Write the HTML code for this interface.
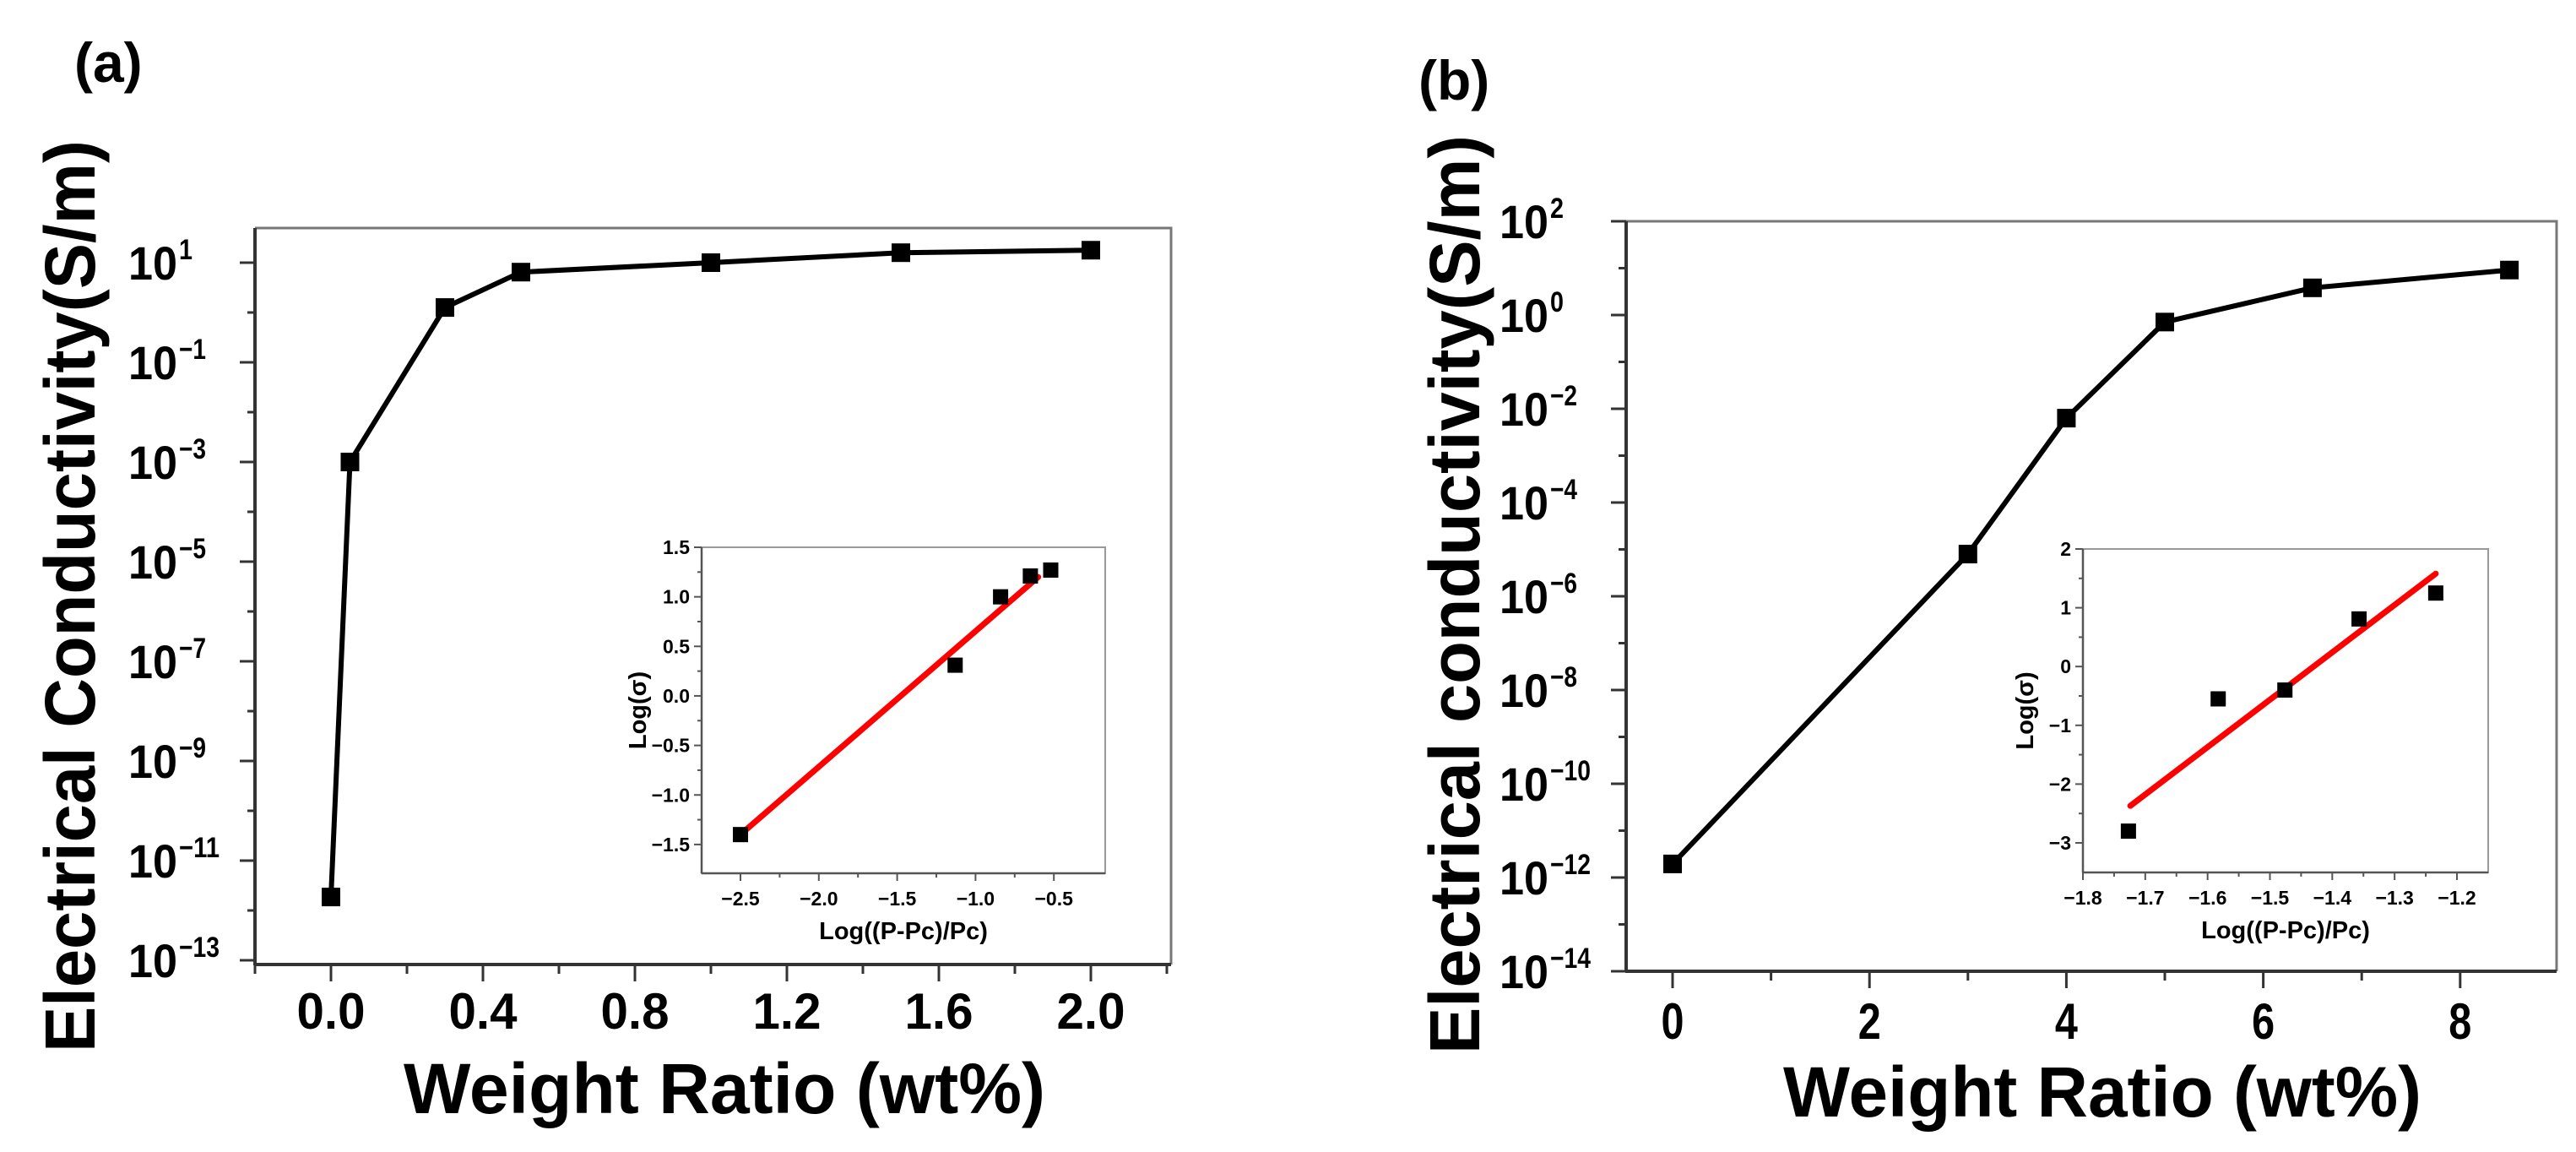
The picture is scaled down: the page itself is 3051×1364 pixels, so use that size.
<!DOCTYPE html>
<html><head><meta charset="utf-8">
<style>
html,body{margin:0;padding:0;background:#fff;}
svg{display:block;font-family:"Liberation Sans",Arial,sans-serif;font-weight:bold;}
</style></head>
<body>
<svg id="fig" width="3051" height="1364" viewBox="0 0 3051 1364" xmlns="http://www.w3.org/2000/svg">
<rect width="3051" height="1364" fill="#fff"/>
</svg>
<script>
// ---- Panel (a) data ----
const aX = [0, 0.05, 0.3, 0.5, 1.0, 1.5, 2.0];
const aLogY = [-11.73, -3.0, 0.1, 0.81, 1.0, 1.2, 1.25];
const aXTicks = [0.0, 0.4, 0.8, 1.2, 1.6, 2.0];
const aXTickLabels = ["0.0", "0.4", "0.8", "1.2", "1.6", "2.0"];
const aYTicks = [1, -1, -3, -5, -7, -9, -11, -13];
// inset (a)
const aiX = [-2.5, -1.13, -0.84, -0.65, -0.52];
const aiY = [-1.4, 0.31, 1.0, 1.21, 1.27];
const aiFitX = [-2.5, -0.6];
const aiFitY = [-1.4, 1.2];
const aiXTicks = [-2.5, -2.0, -1.5, -1.0, -0.5];
const aiXTickLabels = ["-2.5", "-2.0", "-1.5", "-1.0", "-0.5"];
const aiYTicks = [1.5, 1.0, 0.5, 0.0, -0.5, -1.0, -1.5];
const aiYTickLabels = ["1.5", "1.0", "0.5", "0.0", "-0.5", "-1.0", "-1.5"];
// ---- Panel (b) data ----
const bX = [0, 3, 4, 5, 6.5, 8.5];
const bLogY = [-11.71, -5.1, -2.2, -0.15, 0.58, 0.96];
const bXTicks = [0, 2, 4, 6, 8];
const bXTickLabels = ["0", "2", "4", "6", "8"];
const bYTicks = [2, 0, -2, -4, -6, -8, -10, -12, -14];
// inset (b)
const biX = [-1.727, -1.583, -1.476, -1.357, -1.234];
const biY = [-2.8, -0.55, -0.4, 0.81, 1.25];
const biFitX = [-1.724, -1.234];
const biFitY = [-2.37, 1.58];
const biXTicks = [-1.8, -1.7, -1.6, -1.5, -1.4, -1.3, -1.2];
const biXTickLabels = ["-1.8", "-1.7", "-1.6", "-1.5", "-1.4", "-1.3", "-1.2"];
const biYTicks = [2, 1, 0, -1, -2, -3];
const biYTickLabels = ["2", "1", "0", "-1", "-2", "-3"];

const NS = "http://www.w3.org/2000/svg";
const svg = document.getElementById("fig");
function el(tag, attrs, parent, text) {
  const e = document.createElementNS(NS, tag);
  for (const k in attrs) e.setAttribute(k, attrs[k]);
  if (text !== undefined) e.textContent = text;
  (parent || svg).appendChild(e);
  return e;
}
function scale(d0, d1, r0, r1) { return v => r0 + (v - d0) * (r1 - r0) / (d1 - d0); }
function fmt(s) { return s.replace("-", "\u2212"); }

function mainPanel(o) {
  const g = el("g", {});
  
  
  const sx = scale(o.xd[0], o.xd[1], o.L, o.R);
  const sy = scale(o.yd[0], o.yd[1], o.B, o.T);
  const fr = el("path", {d:`M${o.L},${o.T} H${o.R} V${o.B}`, fill:"none", stroke:"#777", "stroke-width":3}, g);
  
  
  const ya = el("line", {x1:o.L, y1:o.T, x2:o.L, y2:o.B+1, stroke:"#333", "stroke-width":4}, g);
  
  
  const xa = el("line", {x1:o.L-1, y1:o.B, x2:o.R, y2:o.B, stroke:"#333", "stroke-width":4}, g);
  
  
  o.yTicks.forEach(v => {
    const y = sy(v);
    el("line", {x1:o.L-18, y1:y, x2:o.L, y2:y, stroke:"#333", "stroke-width":3}, g);
    const t = el("text", {x:o.L-92, y:y+20, "text-anchor":"end", "font-size":56, textLength:58, lengthAdjust:"spacingAndGlyphs"}, g, "10");
    
    
    const s = fmt(String(v));
    const sp = el("text", {x:o.L-90, y:y-4, "text-anchor":"start", "font-size":34, textLength:s.length*16, lengthAdjust:"spacingAndGlyphs"}, g, s);
    
    
  });
  for (let v = Math.ceil(o.yd[0]); v <= o.yd[1]; v++) {
    if (o.yTicks.indexOf(v) < 0) { const y = sy(v); el("line", {x1:o.L-9, y1:y, x2:o.L, y2:y, stroke:"#333", "stroke-width":3}, g); }
  }
  o.xTicks.forEach((v, i) => {
    const x = sx(v);
    el("line", {x1:x, y1:o.B, x2:x, y2:o.B+20, stroke:"#333", "stroke-width":3}, g);
    const lab = o.xTickLabels[i];
    const t = el("text", {x:x, y:o.xLabY, "text-anchor":"middle", "font-size":60, textLength:lab.length*27, lengthAdjust:"spacingAndGlyphs"}, g, lab);
    
    
  });
  o.xMinor.forEach(v => { const x = sx(v); el("line", {x1:x, y1:o.B, x2:x, y2:o.B+11, stroke:"#333", "stroke-width":3}, g); });
  const pts = o.x.map((v, i) => [sx(v), sy(o.y[i])]);
  const ln = el("polyline", {points:pts.map(p => p.join(",")).join(" "), fill:"none", stroke:"#000", "stroke-width":6, "stroke-linejoin":"round"}, g);
  
  
  pts.forEach(p => {
    const m = el("rect", {x:p[0]-11, y:p[1]-11, width:22, height:22, fill:"#000"}, g);
    
    
  });
  const xt = el("text", {x:o.xTitleX, y:o.xTitleY, "text-anchor":"middle", "font-size":84, textLength:o.xTitleW, lengthAdjust:"spacingAndGlyphs"}, g, "Weight Ratio (wt%)");
  
  
  const yt = el("text", {x:0, y:0, "text-anchor":"middle", "font-size":84, textLength:o.yTitleW, lengthAdjust:"spacingAndGlyphs", transform:`translate(${o.yTitleX},${o.yTitleY}) rotate(-90)`}, g, o.yTitle);
  
  
  const pl = el("text", {x:o.labX, y:o.labY, "font-size":66}, g, o.label);
  
  
}

function inset(o) {
  const g = el("g", {});
  
  
  const sx = scale(o.xd[0], o.xd[1], o.L, o.R);
  const sy = scale(o.yd[0], o.yd[1], o.B, o.T);
  el("rect", {x:o.L, y:o.T, width:o.R-o.L, height:o.B-o.T, fill:"#fff", stroke:"#999", "stroke-width":2}, g);
  el("line", {x1:o.L, y1:o.T, x2:o.L, y2:o.B, stroke:"#555", "stroke-width":2.5}, g);
  el("line", {x1:o.L, y1:o.B, x2:o.R, y2:o.B, stroke:"#555", "stroke-width":2.5}, g);
  o.yTicks.forEach((v, i) => {
    const y = sy(v);
    el("line", {x1:o.L-9, y1:y, x2:o.L, y2:y, stroke:"#555", "stroke-width":2}, g);
    const t = el("text", {x:o.L-14, y:y+8, "text-anchor":"end", "font-size":23}, g, fmt(o.yTickLabels[i]));
    
    
  });
  for (let k = 0; k < o.yTicks.length - 1; k++) {
    const y = sy((o.yTicks[k] + o.yTicks[k+1]) / 2);
    el("line", {x1:o.L-5, y1:y, x2:o.L, y2:y, stroke:"#555", "stroke-width":2}, g);
  }
  o.xTicks.forEach((v, i) => {
    const x = sx(v);
    el("line", {x1:x, y1:o.B, x2:x, y2:o.B+9, stroke:"#555", "stroke-width":2}, g);
    const t = el("text", {x:x, y:o.B+38, "text-anchor":"middle", "font-size":23}, g, fmt(o.xTickLabels[i]));
    
    
  });
  for (let k = 0; k < o.xTicks.length - 1; k++) {
    const x = sx((o.xTicks[k] + o.xTicks[k+1]) / 2);
    el("line", {x1:x, y1:o.B, x2:x, y2:o.B+5, stroke:"#555", "stroke-width":2}, g);
  }
  const fit = el("line", {x1:sx(o.fx[0]), y1:sy(o.fy[0]), x2:sx(o.fx[1]), y2:sy(o.fy[1]), stroke:"#f00", "stroke-width":7, "stroke-linecap":"round"}, g);
  
  
  o.x.forEach((v, i) => {
    const m = el("rect", {x:sx(v)-9, y:sy(o.y[i])-9, width:18, height:18, fill:"#000"}, g);
    
    
  });
  const xt = el("text", {x:(o.L+o.R)/2, y:o.B+78, "text-anchor":"middle", "font-size":29}, g, "Log((P-Pc)/Pc)");
  
  
  const yt = el("text", {x:0, y:0, "text-anchor":"middle", "font-size":29, transform:`translate(${o.yTitleX},${(o.T+o.B)/2}) rotate(-90)`}, g, "Log(\u03c3)");
  
  
}

mainPanel({name:"panel-a", L:302, R:1387, T:270, B:1142, xd:[(302-392)/450,(1387-392)/450], yd:[1-(1142-311)/59, 1+(311-270)/59], label:"(a)", labX:88, labY:97,
  x:aX, y:aLogY, xTicks:aXTicks, xTickLabels:aXTickLabels, xMinor:[-0.2,0.2,0.6,1.0,1.4,1.8,2.2], yTicks:aYTicks,
  xLabY:1218, xTitleX:858, xTitleY:1318, xTitleW:760, yTitle:"Electrical Conductivity(S/m)", yTitleX:112, yTitleY:706, yTitleW:1080});
inset({name:"inset-a", L:831, R:1309, T:648, B:1034, xd:[-2.5-(877-831)/185.6, -2.5+(1309-877)/185.6], yd:[1.5-(1034-648)/117.3, 1.5],
  x:aiX, y:aiY, fx:aiFitX, fy:aiFitY, xTicks:aiXTicks, xTickLabels:aiXTickLabels, yTicks:aiYTicks, yTickLabels:aiYTickLabels, yTitleX:765});
mainPanel({name:"panel-b", L:1926, R:3028, T:262, B:1150, xd:[(1926-1981)/116.6,(3028-1981)/116.6], yd:[-14,2], label:"(b)", labX:1680, labY:118,
  x:bX, y:bLogY, xTicks:bXTicks, xTickLabels:bXTickLabels, xMinor:[1,3,5,7], yTicks:bYTicks,
  xLabY:1230, xTitleX:2490, xTitleY:1322, xTitleW:756, yTitle:"Electrical conductivity(S/m)", yTitleX:1752, yTitleY:704, yTitleW:1088});
inset({name:"inset-b", L:2467, R:2947, T:650, B:1033, xd:[-1.8, -1.2+(2947-2910)/738], yd:[2-(1033-650)/69.6, 2],
  x:biX, y:biY, fx:biFitX, fy:biFitY, xTicks:biXTicks, xTickLabels:biXTickLabels, yTicks:biYTicks, yTickLabels:biYTickLabels, yTitleX:2408});
</script>
</body></html>
